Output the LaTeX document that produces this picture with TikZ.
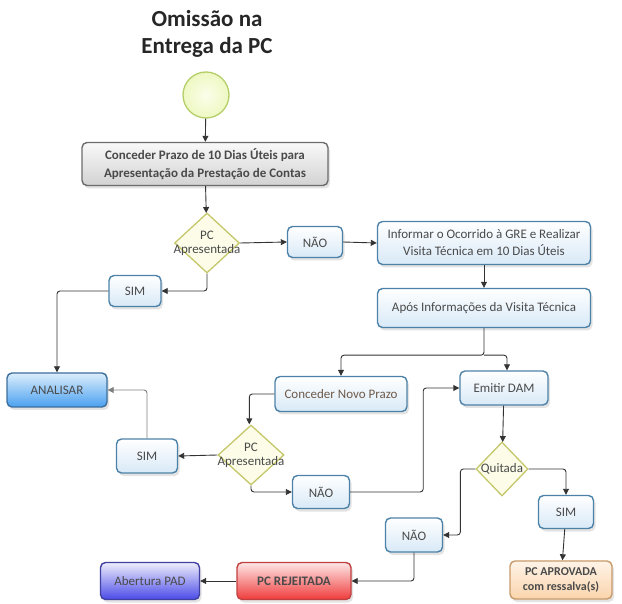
\documentclass[tikz,border=0pt]{standalone}
\usepackage{fontspec}
\setmainfont{Carlito}
\usetikzlibrary{shapes.geometric,arrows.meta,shadows,calc}
\definecolor{txt}{HTML}{4A4A4A}
\definecolor{txtbrown}{HTML}{6E5A4A}
\definecolor{bordblue}{HTML}{4D82A8}
\definecolor{lightblue}{HTML}{D8E9F7}
\definecolor{linec}{HTML}{333333}
\definecolor{analbord}{HTML}{3B6E9C}
\definecolor{analbot}{HTML}{4AA0F0}
\definecolor{analtop}{HTML}{DCEEFC}
\definecolor{olivec}{HTML}{C4C86A}
\definecolor{yellowc}{HTML}{FCFCE8}
\definecolor{startbord}{HTML}{B4CE68}
\definecolor{startin}{HTML}{FBFEEA}
\definecolor{startout}{HTML}{EEF8C2}
\definecolor{rejbord}{HTML}{C04040}
\definecolor{rejtop}{HTML}{FDE6E6}
\definecolor{rejbot}{HTML}{F03C3C}
\definecolor{padbord}{HTML}{4040A0}
\definecolor{padtop}{HTML}{EEEEFC}
\definecolor{padbot}{HTML}{4A4AE8}
\definecolor{aprbord}{HTML}{C89A6A}
\definecolor{aprtop}{HTML}{FFF4E8}
\definecolor{aprbot}{HTML}{FAD4AC}
\begin{document}
\begin{tikzpicture}[x=1pt,y=-1pt,
  base/.style={rounded corners=5pt, draw, line width=1.4pt, align=center,
    font=\fontsize{13}{17}\selectfont, text=txt, inner sep=1pt,
    drop shadow={opacity=0.22, shadow xshift=2pt, shadow yshift=-3pt}},
  bluebox/.style={base, draw=bordblue, top color=white, bottom color=lightblue},
  graybox/.style={base, draw=gray!85!black, top color=gray!5, bottom color=gray!35, font=\bfseries\fontsize{13}{18}\selectfont},
  analbox/.style={base, draw=analbord, top color=analtop, bottom color=analbot},
  dia/.style={diamond, draw=olivec, line width=1.3pt, fill=yellowc, inner sep=0pt},
  diatext/.style={align=center, font=\fontsize{13}{14}\selectfont, text=txt, inner sep=0pt},
  conn/.style={draw=linec, line width=0.9pt, rounded corners=3pt, -{Triangle[length=6pt,width=6pt]}},
]
\useasboundingbox (0,0) rectangle (622,604);

\node[align=center, font=\bfseries\fontsize{23}{27}\selectfont, text=black!85] (title) at (207,34) {Omissão na\\Entrega da PC};

\node[circle, minimum size=46pt, draw=startbord, line width=1.3pt, inner sep=0pt,
  inner color=startin, outer color=startout] (start) at (206,95) {};

\node[graybox, minimum width=246pt, minimum height=43pt] (conc) at (205,164)
  {Conceder Prazo de 10 Dias Úteis para\\Apresentação da Prestação de Contas};

\node[dia, minimum width=65pt, minimum height=60pt] (d1) at (207,243) {};
\node[diatext] (d1t) at (d1.center) {PC\\Apresentada};

\node[bluebox, minimum width=55pt, minimum height=31pt] (nao1) at (315,242) {NÃO};
\node[bluebox, minimum width=213pt, minimum height=43pt] (inf) at (484,243)
  {Informar o Ocorrido à GRE e Realizar\\Visita Técnica em 10 Dias Úteis};
\node[bluebox, minimum width=213pt, minimum height=39pt] (apos) at (484,308)
  {Após Informações da Visita Técnica};
\node[bluebox, minimum width=52pt, minimum height=31pt] (sim1) at (135,291) {SIM};

\node[analbox, minimum width=100pt, minimum height=34pt] (anal) at (57,390) {ANALISAR};
\node[bluebox, minimum width=132pt, minimum height=35pt, text=txtbrown] (novo) at (341,394) {Conceder Novo Prazo};
\node[bluebox, minimum width=88pt, minimum height=34pt] (dam) at (504,388) {Emitir DAM};

\node[dia, minimum width=66pt, minimum height=60pt] (d2) at (251,455) {};
\node[diatext] (d2t) at (d2.center) {PC\\Apresentada};
\node[bluebox, minimum width=61pt, minimum height=34pt] (sim2) at (147,456) {SIM};
\node[bluebox, minimum width=57pt, minimum height=33pt] (nao2) at (321,492) {NÃO};

\node[dia, minimum width=52pt, minimum height=54pt] (d3) at (502,469) {};
\node[diatext] (d3t) at (d3.center) {Quitada};
\node[bluebox, minimum width=55pt, minimum height=33pt] (sim3) at (566,512) {SIM};
\node[bluebox, minimum width=57pt, minimum height=34pt] (nao3) at (414,535) {NÃO};

\node[base, draw=rejbord, top color=rejtop, bottom color=rejbot,
  minimum width=114pt, minimum height=37pt, font=\bfseries\fontsize{13}{17}\selectfont] (rej) at (294,581) {PC REJEITADA};
\node[base, draw=padbord, top color=padtop, bottom color=padbot,
  minimum width=99pt, minimum height=37pt] (pad) at (150,581) {Abertura PAD};
\node[base, draw=aprbord, top color=aprtop, bottom color=aprbot,
  minimum width=102pt, minimum height=38pt, font=\bfseries\fontsize{12}{15}\selectfont] (apr) at (561,580) {PC APROVADA\\com ressalva(s)};

% connectors
\draw[conn] (start) -- (conc);
\draw[conn] (conc) -- (d1);
\draw[conn] (d1.east) -- (nao1.west);
\draw[conn] (nao1.east) -- (inf.west);
\draw[conn] (inf) -- (apos);
\draw[conn] (d1.south) |- (sim1.east);
\draw[conn] (sim1.west) -| (anal.north);
\coordinate (split) at ($(apos.south)+(0,27)$);
\draw[conn] (apos.south) -- (split) -| (novo.north);
\draw[conn] (split) -| ($(dam.north)+(3,0)$);
\coordinate (nl) at ($(novo.west)+(-25,0)$);
\draw[conn] (novo.west) -- (nl) -- (d2.north -| nl);
\draw[conn] (d2.west) -- (sim2.east);
\draw[conn, draw=gray] (sim2.north) |- (anal.east);
\draw[conn] (d2.south) |- (nao2.west);
\coordinate (nr) at ($(nao2.east)+(73,0)$);
\draw[conn] (nao2.east) -- (nr) |- (dam.west);
\draw[conn] (dam) -- (d3);
\draw[conn] (d3.east) -| (sim3.north);
\coordinate (ql) at ($(d3.west)+(-15,0)$);
\draw[conn] (d3.west) -- (ql) |- (nao3.east);
\draw[conn] (sim3) -- (apr);
\draw[conn] (nao3.south) |- (rej.east);
\draw[conn] (rej) -- (pad);
\end{tikzpicture}
\end{document}
